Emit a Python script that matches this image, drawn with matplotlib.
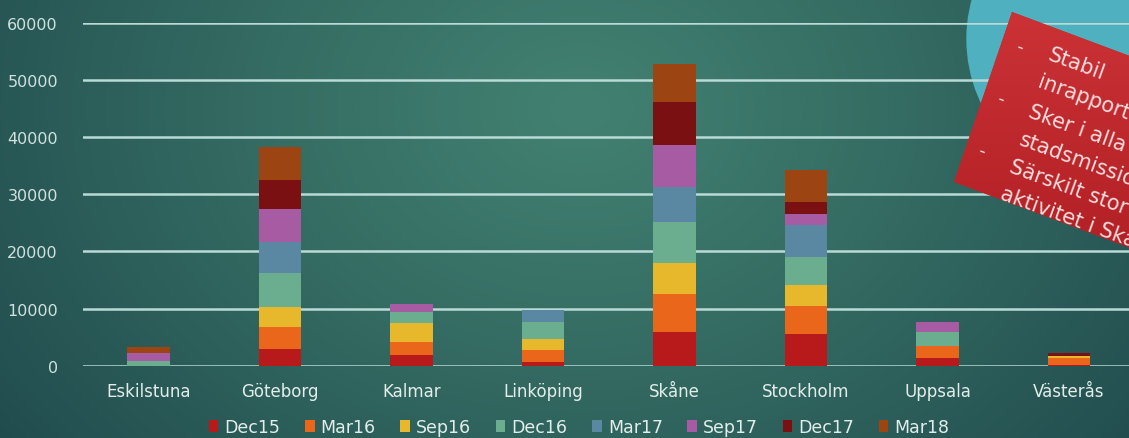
import numpy as np
import matplotlib
matplotlib.use("Agg")
import matplotlib.pyplot as plt
from matplotlib.patches import Patch, Polygon, Circle
from matplotlib.colors import to_rgb

# ---------------- data ----------------
cities = ["Eskilstuna", "Göteborg", "Kalmar", "Linköping", "Skåne",
          "Stockholm", "Uppsala", "Västerås"]
periods = ["Dec15", "Mar16", "Sep16", "Dec16", "Mar17", "Sep17", "Dec17", "Mar18"]
dec15 = [0, 2950, 1890, 700, 5900, 5470, 1360, 100]
mar16 = [0, 3750, 2290, 2070, 6600, 4940, 2170, 1300]
sep16 = [0, 3600, 3230, 1930, 5450, 3650, 0, 350]
dec16 = [880, 6000, 2010, 2950, 7150, 5040, 2360, 0]
mar17 = [0, 5400, 0, 2050, 6200, 5470, 0, 0]
sep17 = [1360, 5820, 1460, 0, 7400, 2060, 1760, 0]
dec17 = [0, 5060, 0, 0, 7500, 1990, 0, 400]
mar18 = [1000, 5640, 0, 0, 6600, 5590, 0, 0]
series = [dec15, mar16, sep16, dec16, mar17, sep17, dec17, mar18]
yticks = [0, 10000, 20000, 30000, 40000, 50000, 60000]
note_lines = ["Stabil", "inrapportering", "Sker i alla", "stadsmissioner",
              "Särskilt stor", "aktivitet i Skåne"]

colors = ["#b8191b", "#e9661a", "#e8b82c", "#6aae8f", "#5a87a2",
          "#a65ba3", "#7a1011", "#9c4412"]

W, H = 1129, 439
fig = plt.figure(figsize=(W / 100, H / 100), dpi=100)

# ---------------- background ----------------
bg = fig.add_axes([0, 0, 1, 1], zorder=0)
bg.set_xlim(0, W)
bg.set_ylim(H, 0)
bg.axis("off")
yy, xx = np.mgrid[0:H, 0:W]
d = np.sqrt(((xx - 580) / 1.0) ** 2 + ((yy - 110) * 1.3) ** 2)
t = np.clip(d / 760, 0, 1) ** 1.1
inner = np.array(to_rgb("#428171"))
outer = np.array(to_rgb("#1f494c"))
img = inner[None, None, :] * (1 - t[..., None]) + outer[None, None, :] * t[..., None]
bg.imshow(img, extent=[0, W, H, 0], aspect="auto", zorder=0)
bg.add_patch(Circle((1115, 40), 148, color="#4fb1bf", zorder=1))

# ---------------- chart ----------------
left_px, right_px = 83, W
bot_px, top_px = 366.7, 24
ax = fig.add_axes([left_px / W, (H - bot_px) / H, (right_px - left_px) / W,
                   (bot_px - top_px) / H], zorder=1)
ax.patch.set_alpha(0)
x = np.arange(len(cities))
step = 131.5
ax.set_xlim(-(148.5 - left_px) / step, -(148.5 - left_px) / step + (right_px - left_px) / step)
ax.set_ylim(0, 60000)
bottom = np.zeros(len(cities))
for vals, col, lab in zip(series, colors, periods):
    ax.bar(x, vals, width=0.32, bottom=bottom, color=col, label=lab, zorder=3)
    bottom += np.array(vals)
ax.set_yticks(yticks)
ax.set_yticklabels([str(v) for v in yticks])
ax.set_xticks(x)
ax.set_xticklabels(cities)
ax.grid(axis="y", color="#b9dad6", lw=1.8, zorder=1)
ax.set_axisbelow(True)
for s in ax.spines.values():
    s.set_visible(False)
ax.tick_params(axis="y", length=0, pad=18, labelsize=11.5, labelcolor="#cfe2de")
ax.tick_params(axis="x", length=0, pad=12, labelsize=12, labelcolor="#e2eeeb")

handles = [Patch(facecolor=c, edgecolor="none") for c in colors]
leg = fig.legend(handles, periods, loc="center", bbox_to_anchor=(0.513, 0.025),
                 ncol=8, frameon=False, fontsize=12.5, handlelength=0.55,
                 handleheight=0.75, handletextpad=0.35, columnspacing=1.42,
                 labelcolor="#e2eeeb")

# ---------------- note card ----------------
ov = fig.add_axes([0, 0, 1, 1], zorder=5)
ov.set_xlim(0, W)
ov.set_ylim(H, 0)
ov.axis("off")
ang = np.deg2rad(20.5)
tl = np.array([1012, 13])
bl = np.array([954, 183])
dv = np.array([np.cos(ang), np.sin(ang)]) * 320
card = Polygon([tl, tl + dv, bl + dv, bl], closed=True, facecolor="#c3262b",
               edgecolor="none", zorder=2)
ov.add_patch(card)
g = np.linspace(0, 1, 200)[:, None] * np.ones((1, 10))
cimg = np.zeros((200, 10, 4))
c1 = np.array(to_rgb("#cc3337"))
c2 = np.array(to_rgb("#ad1c21"))
cimg[..., :3] = c1 * (1 - g[..., None]) + c2 * g[..., None]
cimg[..., 3] = 1
im = ov.imshow(cimg, extent=[940, W, 300, 0], aspect="auto", zorder=3)
im.set_clip_path(card)

starts = [(1052, 45), (1042, 72), (1032, 102), (1023, 130), (1013, 157), (1004, 184)]
for line, (sx, sy) in zip(note_lines, starts):
    ov.text(sx, sy, line, rotation=-20, rotation_mode="anchor", ha="left", va="top",
            fontsize=15, color="#f7dcdc", family=["DejaVu Sans"], zorder=4)
dash_pos = [(1020, 37), (1001, 89), (982, 141)]
for (dx, dy) in dash_pos:
    ov.text(dx, dy, "-", rotation=-20, rotation_mode="anchor", ha="left", va="top",
            fontsize=13, color="#f7dcdc", zorder=4)

fig.savefig("out.png", dpi=100)
